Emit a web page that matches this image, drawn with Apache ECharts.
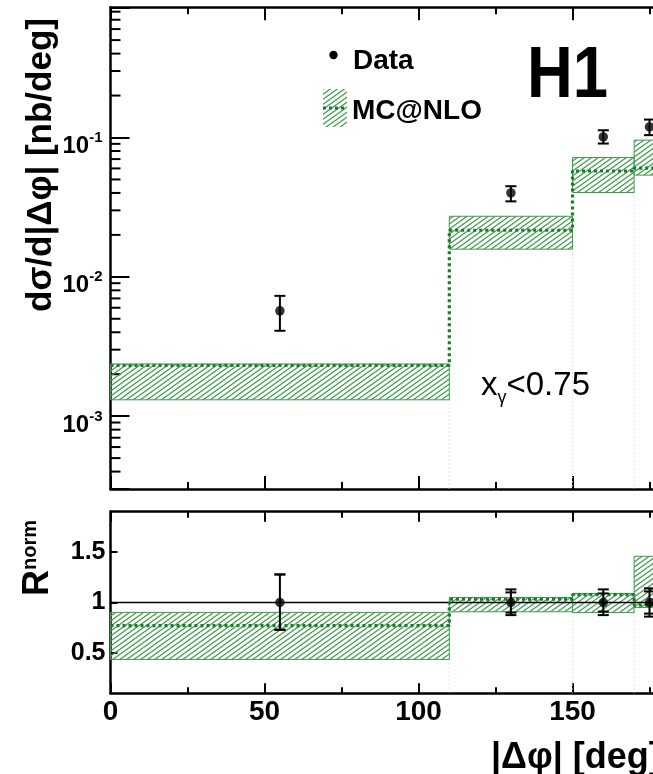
<!DOCTYPE html>
<html>
<head>
<meta charset="utf-8">
<script src="https://cdn.jsdelivr.net/npm/echarts@6.0.0/dist/echarts.min.js"></script>
<style>
  html, body { margin: 0; padding: 0; background: #fff; }
  #chart { width: 653px; height: 774px; }
</style>
</head>
<body>
<div id="chart"></div>
<script>
// bins in |dphi| (deg)
const binEdges = [0, 110, 150, 170, 180];
const dataX = [55, 130, 160, 175];

// upper panel: d sigma / d|dphi| [nb/deg]
const xsData  = [0.0057, 0.040, 0.101, 0.119];
const xsErrLo = [0.0041, 0.0348, 0.0905, 0.104];
const xsErrHi = [0.0073, 0.0447, 0.1127, 0.1345];
const mcXs    = [0.00231, 0.0216, 0.0575, 0.0602];
const mcXsLo  = [0.00131, 0.0158, 0.0403, 0.0537];
const mcXsHi  = [0.00237, 0.0272, 0.0718, 0.0958];

// lower panel: R^norm
const ratioData   = [1, 1, 1, 1];
const ratioErrLo  = [0.73, 0.875, 0.875, 0.86];
const ratioErrHi  = [1.278, 1.13, 1.13, 1.14];
const ratioStatLo = [0.73, 0.90, 0.91, 0.89];
const ratioStatHi = [1.278, 1.10, 1.09, 1.11];
const mcRatio   = [0.77, 1.033, 1.078, 0.973];
const mcRatioLo = [0.436, 0.908, 0.90, 0.95];
const mcRatioHi = [0.902, 1.05, 1.09, 1.458];

const ratioTicks = [0.5, 1, 1.5];

const FONT = '"Liberation Sans", Arial, Helvetica, sans-serif';
const GREEN = '#3d9a4b';
const DKGREEN = '#1b7a2c';

// hatch pattern for the MC band
function makeHatch() {
  const w = 7, h = 5;
  const c = document.createElement('canvas');
  c.width = w; c.height = h;
  const g = c.getContext('2d');
  g.strokeStyle = GREEN;
  g.lineWidth = 1.2;
  g.beginPath();
  g.moveTo(-w, 2 * h); g.lineTo(2 * w, -h);
  g.moveTo(-2 * w, 2 * h); g.lineTo(w, -h);
  g.moveTo(0, 2 * h); g.lineTo(3 * w, -h);
  g.stroke();
  return c;
}
const hatch = { image: makeHatch(), repeat: 'repeat' };

// log minor tick values
const logMinor = [];
[1e-4, 1e-3, 1e-2, 1e-1].forEach(function (d) {
  for (let m = 2; m <= 9; m++) {
    const v = m * d;
    if (v > 3.01e-4 && v < 0.86) logMinor.push(v);
  }
});

function stepPoints(vals) {
  const pts = [];
  vals.forEach(function (v, i) {
    pts.push([binEdges[i], v]);
    pts.push([binEdges[i + 1], v]);
  });
  return pts;
}

function bandRows(lo, hi) {
  return lo.map(function (v, i) { return [binEdges[i], binEdges[i + 1], v, hi[i]]; });
}

// faint dotted lines at inner bin edges, from the lower band edge down
function edgeRows(lo) {
  const rows = [];
  for (let i = 1; i < binEdges.length - 1; i++) {
    rows.push([binEdges[i], Math.min(lo[i - 1], lo[i])]);
  }
  return rows;
}

function renderBand(params, api) {
  const p1 = api.coord([api.value(0), api.value(3)]);
  const p2 = api.coord([api.value(1), api.value(2)]);
  return {
    type: 'rect',
    shape: { x: p1[0], y: p1[1], width: p2[0] - p1[0], height: p2[1] - p1[1] },
    style: { fill: hatch, stroke: GREEN, lineWidth: 1 }
  };
}

function renderEdge(yMin) {
  return function (params, api) {
    const a = api.coord([api.value(0), api.value(1)]);
    const b = api.coord([api.value(0), yMin]);
    return {
      type: 'line',
      shape: { x1: a[0], y1: a[1], x2: b[0], y2: b[1] },
      style: { stroke: '#c8d4c8', lineWidth: 1, lineDash: [1, 3] }
    };
  };
}

function renderErr(capW, statW) {
  return function (params, api) {
    const x = api.value(0);
    const lo = api.coord([x, api.value(1)]);
    const hi = api.coord([x, api.value(2)]);
    const st = { stroke: '#000', lineWidth: 2 };
    const kids = [
      { type: 'line', shape: { x1: lo[0], y1: lo[1], x2: hi[0], y2: hi[1] }, style: st },
      { type: 'line', shape: { x1: lo[0] - capW / 2, y1: lo[1], x2: lo[0] + capW / 2, y2: lo[1] }, style: st },
      { type: 'line', shape: { x1: hi[0] - capW / 2, y1: hi[1], x2: hi[0] + capW / 2, y2: hi[1] }, style: st }
    ];
    if (statW) {
      const sl = api.coord([x, api.value(3)]);
      const sh = api.coord([x, api.value(4)]);
      kids.push({ type: 'line', shape: { x1: sl[0] - statW / 2, y1: sl[1], x2: sl[0] + statW / 2, y2: sl[1] }, style: st });
      kids.push({ type: 'line', shape: { x1: sh[0] - statW / 2, y1: sh[1], x2: sh[0] + statW / 2, y2: sh[1] }, style: st });
    }
    return { type: 'group', children: kids };
  };
}

const axisLine = { show: true, onZero: false, lineStyle: { color: '#000', width: 2.5 } };

function xAx(grid, pos, labels, major, minor) {
  return {
    type: 'value', gridIndex: grid, position: pos, min: 0, max: 200, interval: 50,
    axisLine: axisLine,
    axisTick: { show: true, inside: true, length: major, lineStyle: { color: '#000', width: 2 } },
    minorTick: { show: true, splitNumber: 2, length: minor, lineStyle: { color: '#000', width: 2 } },
    splitLine: { show: false },
    axisLabel: labels ? {
      show: true, margin: 5, fontSize: 28, fontWeight: 'bold', fontFamily: FONT, color: '#000',
      formatter: function (v) { return v > 150 ? '' : String(v); }
    } : { show: false }
  };
}

const chart = echarts.init(document.getElementById('chart'));

chart.setOption({
  animation: false,
  backgroundColor: '#fff',
  grid: [
    { left: 110.5, top: 7.3, width: 616, height: 481.7, outerBoundsMode: 'none' },
    { left: 110.5, top: 511.7, width: 616, height: 181.6, outerBoundsMode: 'none' }
  ],
  xAxis: [
    xAx(0, 'bottom', false, 13, 7),
    xAx(0, 'top', false, 13, 7),
    xAx(1, 'bottom', true, 10, 6),
    xAx(1, 'top', false, 10, 6)
  ],
  yAxis: [
    {
      type: 'log', gridIndex: 0, position: 'left', min: 3e-4, max: 0.86, logBase: 10,
      axisLine: axisLine,
      axisTick: { show: true, inside: true, length: 19, lineStyle: { color: '#000', width: 2 } },
      splitLine: { show: false },
      axisLabel: {
        show: true, margin: 8, padding: [14, 0, 0, 0],
        formatter: function (v) {
          const e = Math.log10(v);
          if (Math.abs(e - Math.round(e)) > 0.01) return '';
          return '{b|10}{e|' + Math.round(e) + '}';
        },
        rich: {
          b: { fontSize: 24, fontWeight: 'bold', fontFamily: FONT, color: '#000', lineHeight: 28, verticalAlign: 'bottom' },
          e: { fontSize: 15, fontWeight: 'bold', fontFamily: FONT, color: '#000', lineHeight: 15, verticalAlign: 'top' }
        }
      }
    },
    {
      type: 'value', gridIndex: 1, position: 'left', min: 0.1, max: 1.9,
      axisLine: axisLine,
      axisTick: { show: true, inside: true, length: 7, customValues: ratioTicks, lineStyle: { color: '#000', width: 2 } },
      splitLine: { show: false },
      axisLabel: {
        show: true, margin: 5, padding: [10, 0, 0, 0], customValues: ratioTicks,
        fontSize: 25, fontWeight: 'bold', fontFamily: FONT, color: '#000',
        formatter: function (v) { return String(v); }
      }
    }
  ],
  series: [
    // upper panel
    {
      type: 'custom', name: 'minor ticks', xAxisIndex: 0, yAxisIndex: 0, silent: true,
      data: logMinor.map(function (v) { return [0, v]; }),
      renderItem: function (params, api) {
        const p = api.coord([0, api.value(1)]);
        return { type: 'line', shape: { x1: p[0], y1: p[1], x2: p[0] + 10, y2: p[1] }, style: { stroke: '#000', lineWidth: 2 } };
      }
    },
    {
      type: 'custom', name: 'edges', xAxisIndex: 0, yAxisIndex: 0, silent: true,
      data: edgeRows(mcXsLo), renderItem: renderEdge(3e-4)
    },
    {
      type: 'custom', name: 'MC@NLO band', xAxisIndex: 0, yAxisIndex: 0, silent: true,
      data: bandRows(mcXsLo, mcXsHi), renderItem: renderBand
    },
    {
      type: 'line', name: 'MC@NLO', xAxisIndex: 0, yAxisIndex: 0, silent: true,
      data: stepPoints(mcXs), symbol: 'none',
      lineStyle: { color: DKGREEN, width: 3.2, type: [3, 3] }
    },
    {
      type: 'custom', name: 'Data err', xAxisIndex: 0, yAxisIndex: 0, silent: true, z: 5,
      data: dataX.map(function (x, i) { return [x, xsErrLo[i], xsErrHi[i]]; }),
      renderItem: renderErr(11, 0)
    },
    {
      type: 'scatter', name: 'Data', xAxisIndex: 0, yAxisIndex: 0, silent: true, z: 6,
      data: dataX.map(function (x, i) { return [x, xsData[i]]; }),
      symbol: 'circle', symbolSize: 9.5, itemStyle: { color: '#000' }
    },
    // lower panel
    {
      type: 'custom', name: 'edges R', xAxisIndex: 2, yAxisIndex: 1, silent: true,
      data: edgeRows(mcRatioLo), renderItem: renderEdge(0.1)
    },
    {
      type: 'custom', name: 'MC@NLO band R', xAxisIndex: 2, yAxisIndex: 1, silent: true,
      data: bandRows(mcRatioLo, mcRatioHi), renderItem: renderBand
    },
    {
      type: 'line', name: 'unity', xAxisIndex: 2, yAxisIndex: 1, silent: true,
      data: [[0, 1], [200, 1]], symbol: 'none',
      lineStyle: { color: '#000', width: 1.5 }
    },
    {
      type: 'line', name: 'MC@NLO R', xAxisIndex: 2, yAxisIndex: 1, silent: true,
      data: stepPoints(mcRatio), symbol: 'none',
      lineStyle: { color: DKGREEN, width: 3.2, type: [3, 3] }
    },
    {
      type: 'custom', name: 'Data err R', xAxisIndex: 2, yAxisIndex: 1, silent: true, z: 5,
      data: dataX.map(function (x, i) { return [x, ratioErrLo[i], ratioErrHi[i], ratioStatLo[i], ratioStatHi[i]]; }),
      renderItem: renderErr(11, 11)
    },
    {
      type: 'scatter', name: 'Data R', xAxisIndex: 2, yAxisIndex: 1, silent: true, z: 6,
      data: dataX.map(function (x, i) { return [x, ratioData[i]]; }),
      symbol: 'circle', symbolSize: 9.5, itemStyle: { color: '#000' }
    }
  ],
  graphic: [
    {
      type: 'text', x: 41, y: 165, rotation: Math.PI / 2,
      style: { text: 'dσ/d|Δφ| [nb/deg]', fontSize: 35, fontWeight: 'bold', fontFamily: FONT, fill: '#000', align: 'center', verticalAlign: 'middle' }
    },
    {
      type: 'text', x: 38, y: 558, rotation: Math.PI / 2,
      style: {
        text: '{r|R}{s|norm}', align: 'center', verticalAlign: 'middle',
        rich: {
          r: { fontSize: 36, fontWeight: 'bold', fontFamily: FONT, fill: '#000', lineHeight: 36, verticalAlign: 'bottom' },
          s: { fontSize: 20, fontWeight: 'bold', fontFamily: FONT, fill: '#000', lineHeight: 20, verticalAlign: 'top' }
        }
      }
    },
    {
      type: 'text', x: 491, y: 758,
      style: { text: '|Δφ| [deg]', fontSize: 36, fontWeight: 'bold', fontFamily: FONT, fill: '#000', align: 'left', verticalAlign: 'middle' }
    },
    {
      type: 'text', x: 527, y: 77, scaleX: 0.88,
      style: { text: 'H1', fontSize: 72, fontWeight: 'bold', fontFamily: FONT, fill: '#000', align: 'left', verticalAlign: 'middle' }
    },
    {
      type: 'text', x: 481, y: 386,
      style: {
        text: '{x|x}{g|γ}{t|<0.75}', align: 'left', verticalAlign: 'middle',
        rich: {
          x: { fontSize: 33, fontFamily: FONT, fill: '#000', lineHeight: 42, verticalAlign: 'middle' },
          g: { fontSize: 18, fontFamily: FONT, fill: '#000', lineHeight: 18, verticalAlign: 'bottom' },
          t: { fontSize: 33, fontFamily: FONT, fill: '#000', lineHeight: 42, verticalAlign: 'middle' }
        }
      }
    },
    // legend
    { type: 'circle', shape: { cx: 333.5, cy: 55, r: 4.2 }, style: { fill: '#000' } },
    {
      type: 'text', x: 353, y: 61,
      style: { text: 'Data', fontSize: 28, fontWeight: 'bold', fontFamily: FONT, fill: '#000', align: 'left', verticalAlign: 'middle' }
    },
    { type: 'rect', shape: { x: 323, y: 89, width: 24, height: 38 }, style: { fill: hatch } },
    { type: 'line', shape: { x1: 323, y1: 108, x2: 347, y2: 108 }, style: { stroke: DKGREEN, lineWidth: 3, lineDash: [3, 3] } },
    {
      type: 'text', x: 352, y: 111,
      style: { text: 'MC@NLO', fontSize: 28, fontWeight: 'bold', fontFamily: FONT, fill: '#000', align: 'left', verticalAlign: 'middle' }
    }
  ]
});
</script>
</body>
</html>
